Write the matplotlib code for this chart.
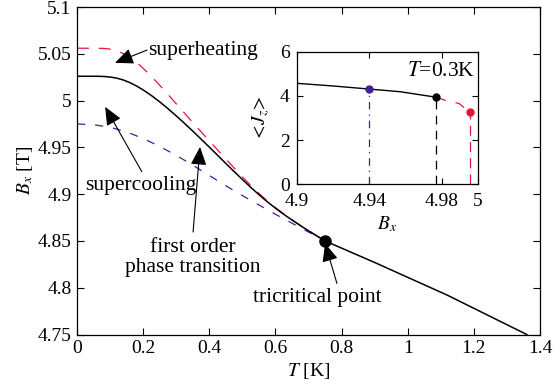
#!/usr/bin/env python3
import matplotlib
matplotlib.use("Agg")
import matplotlib.pyplot as plt
import numpy as np

# main panel: phase boundary B_x(T), first order part up to the tricritical point
t_first = [0.0, 0.06, 0.08, 0.10, 0.12, 0.14, 0.16, 0.18, 0.20, 0.225, 0.25, 0.275, 0.30,
           0.325, 0.35, 0.375, 0.40, 0.425, 0.45, 0.475, 0.50, 0.525, 0.55, 0.575, 0.60,
           0.625, 0.65, 0.675, 0.70, 0.725, 0.75]
b_first = [5.026, 5.026, 5.0258, 5.0252, 5.024, 5.022, 5.0192, 5.0156, 5.0114, 5.0054,
           4.9987, 4.9914, 4.9837, 4.9757, 4.9674, 4.9589, 4.9503, 4.9416, 4.9328, 4.9242,
           4.9157, 4.9074, 4.8995, 4.892, 4.885, 4.8785, 4.8724, 4.8665, 4.8609, 4.8554, 4.85]
t_second = [0.75, 0.90, 1.12, 1.36]
b_second = [4.850, 4.827, 4.792, 4.750]

# superheating limit
t_heat = [0.0, 0.08, 0.10, 0.12, 0.14, 0.16, 0.18, 0.20, 0.225, 0.25, 0.275, 0.30, 0.325,
          0.35, 0.375, 0.40, 0.425, 0.45, 0.475, 0.50, 0.525, 0.55, 0.575, 0.60, 0.625,
          0.65, 0.675, 0.70, 0.725, 0.75]
b_heat = [5.056, 5.0558, 5.055, 5.0532, 5.0502, 5.0462, 5.041, 5.0345, 5.0258, 5.0164,
          5.0066, 4.9966, 4.9866, 4.9766, 4.9668, 4.957, 4.9473, 4.9376, 4.928, 4.9186,
          4.9095, 4.9008, 4.8928, 4.8856, 4.8789, 4.8727, 4.8667, 4.861, 4.8555, 4.85]

# supercooling limit
t_cool = [0.0, 0.05, 0.10, 0.15, 0.20, 0.25, 0.30, 0.35, 0.40, 0.45, 0.50, 0.55, 0.60,
          0.65, 0.70, 0.75]
b_cool = [4.975, 4.9742, 4.9715, 4.9665, 4.9595, 4.951, 4.9415, 4.931, 4.920, 4.909,
          4.8985, 4.8885, 4.8785, 4.869, 4.8595, 4.85]

t_tric, b_tric = 0.75, 4.85

# inset: <J_z>(B_x) at T = 0.3 K
bx_stable = [4.90, 4.92, 4.94, 4.957, 4.977]
jz_stable = [4.57, 4.45, 4.31, 4.19, 3.94]
bx_meta = [4.977, 4.983, 4.9895, 4.994, 4.9957]
jz_meta = [3.94, 3.77, 3.66, 3.36, 3.26]
bx_cool, jz_cool = 4.94, 4.31
bx_trans, jz_trans = 4.977, 3.94
bx_heat, jz_heat = 4.9957, 3.26

RED = "#e6143c"
PURPLE = "#402096"

plt.rcParams["font.family"] = ["Liberation Serif", "DejaVu Serif"]
plt.rcParams["mathtext.fontset"] = "stix"
plt.rcParams["font.size"] = 14

fig = plt.figure(figsize=(5.54, 3.9), dpi=100)
ax = fig.add_axes([0.139, 0.1423, 0.8357, 0.8397])

ax.plot(t_heat, b_heat, color=RED, lw=0.9, dashes=(9.5, 8))
ax.plot(t_cool, b_cool, color=PURPLE, lw=0.9, dashes=(6.5, 8))
ax.plot(t_first, b_first, color="k", lw=1.1)
ax.plot(t_second, b_second, color="k", lw=1.1)
ax.plot([t_tric], [b_tric], "o", color="k", ms=8)

ax.set_xlim(0, 1.4)
ax.set_ylim(4.75, 5.1)
ax.set_xticks(np.arange(0, 1.41, 0.2))
ax.set_yticks(np.arange(4.75, 5.101, 0.05))
ax.set_xticklabels(["0", "0.2", "0.4", "0.6", "0.8", "1", "1.2", "1.4"])
ax.set_yticklabels(["4.75", "4.8", "4.85", "4.9", "4.95", "5", "5.05", "5.1"])
ax.tick_params(direction="in", top=True, right=True, length=5, width=0.8, pad=4)
for s in ax.spines.values():
    s.set_linewidth(0.9)
ax.set_xlabel("$T$ [K]", labelpad=3)
ax.set_ylabel("$B_x$ [T]", labelpad=2)

fs = 15.5
arrow = dict(arrowstyle="-|>,head_length=0.8,head_width=0.35", color="k", lw=0.8,
             shrinkA=0, shrinkB=0, mutation_scale=14)
ax.annotate("", xy=(0.115, 5.0404), xytext=(0.212, 5.054), arrowprops=arrow)
ax.text(0.214, 5.054, "superheating", ha="left", va="center", fontsize=fs)
ax.annotate("", xy=(0.085, 4.9933), xytext=(0.196, 4.924), arrowprops=arrow)
ax.text(0.192, 4.9095, "supercooling", ha="center", va="center", fontsize=fs)
ax.annotate("", xy=(0.372, 4.9505), xytext=(0.351, 4.8595), arrowprops=arrow)
ax.text(0.351, 4.8324, "first order\nphase transition", ha="center", va="center",
        linespacing=1.05, fontsize=fs)
ax.annotate("", xy=(0.75, 4.8474), xytext=(0.786, 4.8046), arrowprops=arrow)
ax.text(0.726, 4.7896, "tricritical point", ha="center", va="center", fontsize=fs)

# inset
ins = fig.add_axes([0.5356, 0.5274, 0.3273, 0.340])
ins.plot(bx_stable, jz_stable, color="k", lw=1.0)
ins.plot(bx_meta, jz_meta, color=RED, lw=0.9, dashes=(8, 8))
ins.plot([bx_cool, bx_cool], [0, jz_cool], color=PURPLE, lw=0.9, dashes=(6, 4, 1, 4))
ins.plot([bx_trans, bx_trans], [0, jz_trans], color="k", lw=0.9, dashes=(7, 5))
ins.plot([bx_heat, bx_heat], [0, jz_heat], color=RED, lw=0.9, dashes=(8, 5))
ins.plot([bx_cool], [jz_cool], "o", color=PURPLE, ms=5)
ins.plot([bx_trans], [jz_trans], "o", color="k", ms=5)
ins.plot([bx_heat], [jz_heat], "o", color=RED, ms=5)
ins.set_xlim(4.9, 5.0)
ins.set_ylim(0, 6)
ins.set_xticks([4.9, 4.94, 4.98, 5.0])
ins.set_xticklabels(["4.9", "4.94", "4.98", "5"])
ins.set_yticks([0, 2, 4, 6])
ins.tick_params(direction="in", top=True, right=True, length=4, width=0.8)
ins.tick_params(axis="x", pad=6)
ins.tick_params(axis="y", pad=5)
for s in ins.spines.values():
    s.set_linewidth(0.9)
ins.set_xlabel("$B_x$", labelpad=3)
ins.set_ylabel(r"$<\!J_z\!>$", labelpad=6)
ins.text(0.983, 0.849, "$T$=0.3K", transform=ins.transAxes, ha="right", va="center",
         fontsize=fs)

fig.savefig("out.png", dpi=100)
